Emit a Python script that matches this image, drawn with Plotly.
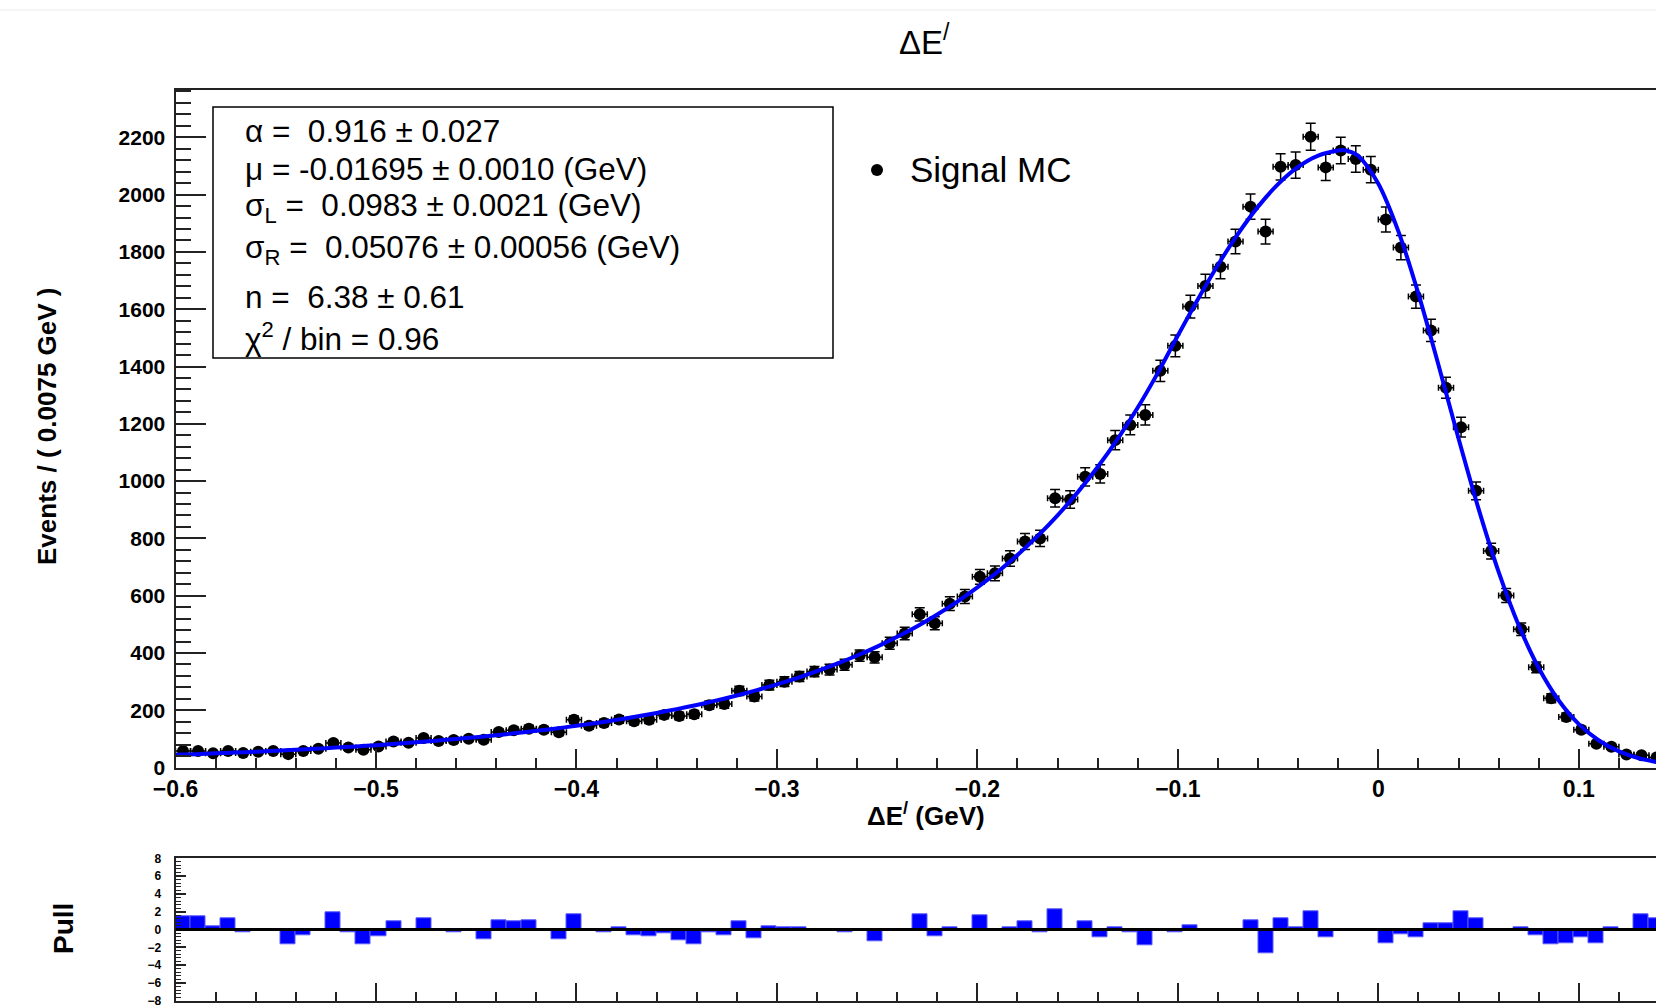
import numpy as np
import plotly.graph_objects as go

W, H = 1656, 1007
FONT = "Liberation Sans"

# histogram binning (GeV)
BIN_LO = -0.6
BIN_WIDTH = 0.0075
X_RANGE = [-0.6, 0.1385]

# events per bin
counts = [
    58, 58, 50, 58, 51, 55, 58, 47, 58, 66,
    86, 70, 62, 74, 91, 87, 103, 93, 96, 101,
    97, 124, 130, 136, 132, 123, 167, 146, 156, 168,
    162, 167, 184, 180, 186, 218, 222, 268, 248, 288,
    300, 318, 335, 342, 359, 391, 385, 434, 468, 535,
    504, 572, 597, 666, 678, 730, 789, 800, 940, 936,
    1015, 1025, 1143, 1196, 1231, 1385, 1472, 1609, 1681, 1748,
    1836, 1958, 1871, 2097, 2103, 2202, 2095, 2154, 2124, 2087,
    1913, 1815, 1644, 1526, 1326, 1188, 966, 756, 601, 483,
    350, 242, 177, 132, 83, 73, 46, 43, 35,
]

# pull of each bin
pulls = [
    1.44, 1.44, 0.34, 1.25, -0.34, 0.05, 0.05, -1.67, -0.6, 0.05,
    1.97, -0.34, -1.67, -0.76, 0.91, 0.05, 1.25, 0.05, -0.34, 0.05,
    -1.1, 1.06, 0.91, 1.06, 0.05, -1.1, 1.74, 0.05, -0.34, 0.3,
    -0.6, -0.8, -0.4, -1.2, -1.7, -0.34, -0.7, 0.9, -1.0, 0.4,
    0.2, 0.3, 0.05, 0.05, -0.34, 0.05, -1.3, 0.05, 0.05, 1.74,
    -0.72, 0.3, 0.05, 1.55, 0.05, 0.3, 0.87, -0.34, 2.3, 0.05,
    0.87, -0.9, 0.3, -0.34, -1.8, 0.05, -0.34, 0.5, 0.05, 0.05,
    0.05, 1.06, -2.7, 1.25, 0.3, 2.0, -0.9, 0.05, 0.05, 0.05,
    -1.5, -0.53, -0.9, 0.68, 0.68, 2.1, 1.25, 0.05, 0.05, 0.3,
    -0.7, -1.67, -1.5, -0.9, -1.5, 0.3, 0.05, 1.74, 1.25,
]

# fitted line
fit_x = [
    -0.60, -0.59, -0.58, -0.57, -0.56, -0.55, -0.54, -0.53, -0.52, -0.51,
    -0.50, -0.49, -0.48, -0.47, -0.46, -0.45, -0.44, -0.43, -0.42, -0.41,
    -0.40, -0.39, -0.38, -0.37, -0.36, -0.35, -0.34, -0.33, -0.32, -0.31,
    -0.30, -0.29, -0.28, -0.27, -0.26, -0.25, -0.24, -0.23, -0.22, -0.21,
    -0.20, -0.19, -0.18, -0.17, -0.16, -0.15, -0.14, -0.13, -0.12, -0.11,
    -0.10, -0.09, -0.08, -0.07, -0.06, -0.05, -0.04, -0.03, -0.02, -0.01695,
    -0.01, 0.00, 0.01, 0.02, 0.03, 0.04, 0.05, 0.06, 0.07, 0.08,
    0.09, 0.10, 0.11, 0.12, 0.13, 0.14,
]
fit_y = [
    44.5, 47.0, 49.7, 52.5, 55.5, 58.7, 62.2, 65.8, 69.8, 74.0,
    78.4, 83.3, 88.4, 93.9, 99.9, 106.2, 113.1, 120.4, 128.3, 136.8,
    146.0, 155.9, 166.6, 178.1, 190.6, 204.1, 218.7, 234.6, 251.7, 270.4,
    290.6, 312.6, 336.6, 362.7, 391.3, 422.4, 456.5, 493.8, 534.6, 579.4,
    628.7, 682.8, 742.4, 808.0, 880.5, 960.7, 1049.3, 1147.6, 1256.7, 1377.7,
    1508.2, 1635.1, 1754.4, 1863.0, 1958.0, 2036.6, 2096.6, 2136.1, 2154.0, 2155.0,
    2134.9, 2038.1, 1871.7, 1653.4, 1405.0, 1148.5, 903.0, 683.0, 496.8, 347.7,
    234.1, 151.6, 94.5, 56.6, 32.6, 18.1,
]

stat_lines = [
    "α =  0.916 ± 0.027",
    "μ = -0.01695 ± 0.0010 (GeV)",
    "σ<sub>L</sub> =  0.0983 ± 0.0021 (GeV)",
    "σ<sub>R</sub> =  0.05076 ± 0.00056 (GeV)",
    "n =  6.38 ± 0.61",
    "χ<sup>2</sup> / bin = 0.96",
]
stat_line_px = [131, 169, 208, 250, 297, 337]

legend_label = "Signal MC"
title_text = "ΔE<sup>/</sup>"
x_title = "ΔE<sup>/</sup> (GeV)"
y_title = "Events / ( 0.0075 GeV )"
pull_title = "Pull"


def fx(p):
    return p / W


def fy(p):
    return 1 - p / H


centers = BIN_LO + BIN_WIDTH * (np.arange(len(counts)) + 0.5)
errors = np.sqrt(np.array(counts, dtype=float))

fig = go.Figure()

fig.add_trace(go.Scatter(
    x=centers, y=counts, mode="markers",
    marker=dict(color="black", size=12),
    error_y=dict(type="data", array=errors, color="black", thickness=1.5, width=5),
    error_x=dict(type="constant", value=BIN_WIDTH / 2, color="black", thickness=1.5, width=3),
    xaxis="x", yaxis="y", showlegend=False,
))
fig.add_trace(go.Scatter(
    x=fit_x, y=fit_y, mode="lines",
    line=dict(color="#0000ff", width=4, shape="spline", smoothing=0.8),
    xaxis="x", yaxis="y", showlegend=False,
))
fig.add_trace(go.Bar(
    x=centers, y=pulls, width=BIN_WIDTH,
    marker=dict(color="#0000ff", line=dict(color="#5a5aff", width=1)),
    xaxis="x2", yaxis="y2", showlegend=False,
))

axis_line = dict(showline=True, linecolor="#222222", linewidth=2, showgrid=False,
                 zeroline=False, ticks="inside", tickcolor="#222222", tickwidth=1.5,
                 automargin=False)

main_top, main_bot = 89.5, 767.6
pull_top, pull_bot = 858.3, 1000.7

fig.update_layout(
    width=W, height=H,
    autosize=False,
    margin=dict(l=0, r=0, t=0, b=0, pad=0),
    paper_bgcolor="white", plot_bgcolor="white",
    font=dict(family=FONT, color="black"),
    bargap=0,
    xaxis=dict(
        domain=[fx(175.5), 1.0], range=X_RANGE, anchor="y", mirror=True,
        dtick=0.1, tick0=0, ticklen=19,
        minor=dict(dtick=0.02, tick0=0, ticklen=10, ticks="inside",
                   tickcolor="#222222", tickwidth=1.5),
        tickfont=dict(family=FONT, size=23, weight="bold"),
        ticklabelstandoff=0,
        **axis_line,
    ),
    yaxis=dict(
        domain=[fy(main_bot), fy(main_top)], range=[0, (main_bot - main_top) / 0.2865],
        anchor="x", dtick=200, tick0=0, ticklen=30,
        minor=dict(dtick=40, tick0=0, ticklen=15, ticks="inside",
                   tickcolor="#222222", tickwidth=1.5),
        tickfont=dict(family=FONT, size=21, weight="bold"),
        ticklabelstandoff=4,
        **axis_line,
    ),
    xaxis2=dict(
        domain=[fx(175.5), 1.0], range=X_RANGE, anchor="y2", mirror=True,
        dtick=0.1, tick0=0, ticklen=18, showticklabels=False,
        minor=dict(dtick=0.02, tick0=0, ticklen=9, ticks="inside",
                   tickcolor="#222222", tickwidth=1.5),
        **axis_line,
    ),
    yaxis2=dict(
        domain=[fy(pull_bot), fy(pull_top)], range=[-8, 8], anchor="x2",
        dtick=2, tick0=0, ticklen=10,
        minor=dict(dtick=0.4, tick0=0, ticklen=5, ticks="inside",
                   tickcolor="#222222", tickwidth=1),
        tickfont=dict(family=FONT, size=12, weight="bold"),
        ticklabelstandoff=10,
        ticklabeloverflow="allow",
        **axis_line,
    ),
)

shapes = [
    # faint page rule at the top
    dict(type="line", xref="paper", yref="paper", x0=0, x1=1, y0=fy(10), y1=fy(10),
         line=dict(color="#ececec", width=1)),
    # zero line of the pull panel
    dict(type="line", xref="x2", yref="y2", x0=X_RANGE[0], x1=X_RANGE[1], y0=0, y1=0,
         line=dict(color="black", width=3)),
    # parameter box
    dict(type="rect", xref="paper", yref="paper", x0=fx(213), x1=fx(833),
         y0=fy(358), y1=fy(107), line=dict(color="black", width=1.5), fillcolor="white"),
    # legend marker
    dict(type="circle", xref="paper", yref="paper", x0=fx(871), x1=fx(883),
         y0=fy(176), y1=fy(164), line=dict(color="black", width=0), fillcolor="black"),
]

annotations = [
    dict(text=title_text, x=fx(924), y=fy(40), font=dict(size=33)),
    dict(text="<b>" + x_title + "</b>", x=fx(926), y=fy(814), font=dict(size=26)),
    dict(text="<b>" + y_title + "</b>", x=fx(47), y=fy(427), textangle=-90, font=dict(size=26)),
    dict(text="<b>" + pull_title + "</b>", x=fx(63), y=fy(929), textangle=-90, font=dict(size=28)),
    dict(text=legend_label, x=fx(908), y=fy(170), xanchor="left", font=dict(size=35)),
]
for line, ypx in zip(stat_lines, stat_line_px):
    annotations.append(dict(text=line, x=fx(243), y=fy(ypx), xanchor="left", font=dict(size=31.5)))

for a in annotations:
    a.setdefault("xanchor", "center")
    a.update(xref="paper", yref="paper", yanchor="middle", showarrow=False)
    a["font"] = dict(family=FONT, color="black", **a["font"])

fig.update_layout(shapes=shapes, annotations=annotations)

fig.write_html("out.html")
